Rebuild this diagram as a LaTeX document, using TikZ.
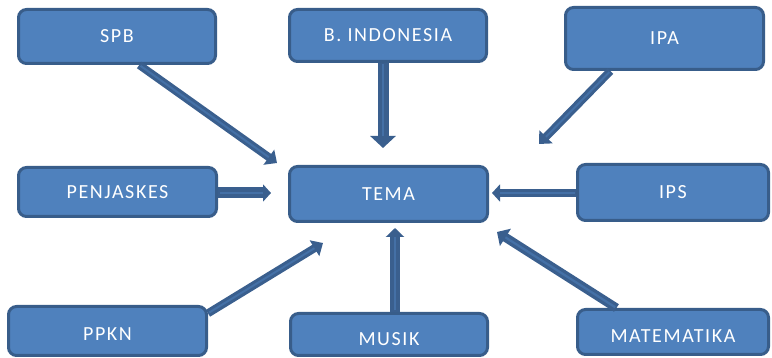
\documentclass[tikz,border=0pt]{standalone}
\usepackage{fontspec}
\usetikzlibrary{arrows.meta}
\newfontfamily\boxfont[LetterSpace=8]{Carlito}
\definecolor{boxfill}{HTML}{4F81BD}
\definecolor{boxborder}{HTML}{385D8A}
\definecolor{linkdark}{HTML}{3A5F8E}
\definecolor{linklight}{HTML}{4470A6}

\begin{document}
\begin{tikzpicture}[x=1pt, y=-1pt,
		subject/.style={rectangle, rounded corners=8pt, draw=boxborder, fill=boxfill, line width=3pt,
			text=white, font=\boxfont\fontsize{20}{24}\selectfont, inner sep=0pt, minimum width=197pt},
		low/.style={text height=#1, text depth=0pt},
		link/.style={draw=linkdark, line width=#1},
		linkcore/.style={draw=linklight, line width=#1}]
	\useasboundingbox (0,0) rectangle (772,358);

	% subjects
	\node[subject, minimum height=54pt] (spb) at (117.0, 36.5) {SPB};
	\node[subject, minimum height=52pt] (bind) at (388.0, 35.5) {B. INDONESIA};
	\node[subject, minimum height=62pt, minimum width=198pt] (ipa) at (664.5, 38.5) {IPA};
	\node[subject, minimum height=49pt, minimum width=198pt] (penj) at (117.5, 192.0) {PENJASKES};
	\node[subject, minimum height=55pt, minimum width=198pt] (tema) at (388.5, 194.0) {TEMA};
	\node[subject, minimum height=56pt, minimum width=191pt] (ips) at (673.0, 192.5) {IPS};
	\node[subject, low=19pt, minimum height=49pt, minimum width=198pt] (ppkn) at (107.5, 331.0) {PPKN};
	\node[subject, low=23pt, minimum height=42pt] (musik) at (389.0, 334.5) {MUSIK};
	\node[subject, low=21pt, minimum height=45pt, minimum width=191pt] (mat) at (673.0, 332.0) {MATEMATIKA};

	% arrow tips
	\coordinate (tspb) at (277, 163);
	\coordinate (tbind) at (383, 148);
	\coordinate (tipa) at (539, 144);
	\coordinate (tpenj) at (271, 193);
	\coordinate (tips) at (492, 193);
	\coordinate (tppkn) at (323, 243);
	\coordinate (tmusik) at (395, 228);
	\coordinate (tmat) at (497, 232);

	% arrows
	\foreach \from/\to/\w/\hw/\hl in {spb.-52/tspb/8/18/10, bind.south -| tbind/tbind/11/25/12,
			ipa.211/tipa/8/18/10, penj.east |- tpenj/tpenj/11/17/8, ips.west |- tips/tips/8/17/8,
			ppkn.10/tppkn/8/18/10, musik.north -| tmusik/tmusik/10/18/9, mat.157/tmat/9/20/10}{
		\draw[link=\w pt, -{Triangle[width=\hw pt, length=\hl pt]}] (\from) -- (\to);
		\draw[linkcore=\w pt/4, shorten >=\hl pt, shorten <=1.5pt] (\from) -- (\to);
	}
\end{tikzpicture}
\end{document}
